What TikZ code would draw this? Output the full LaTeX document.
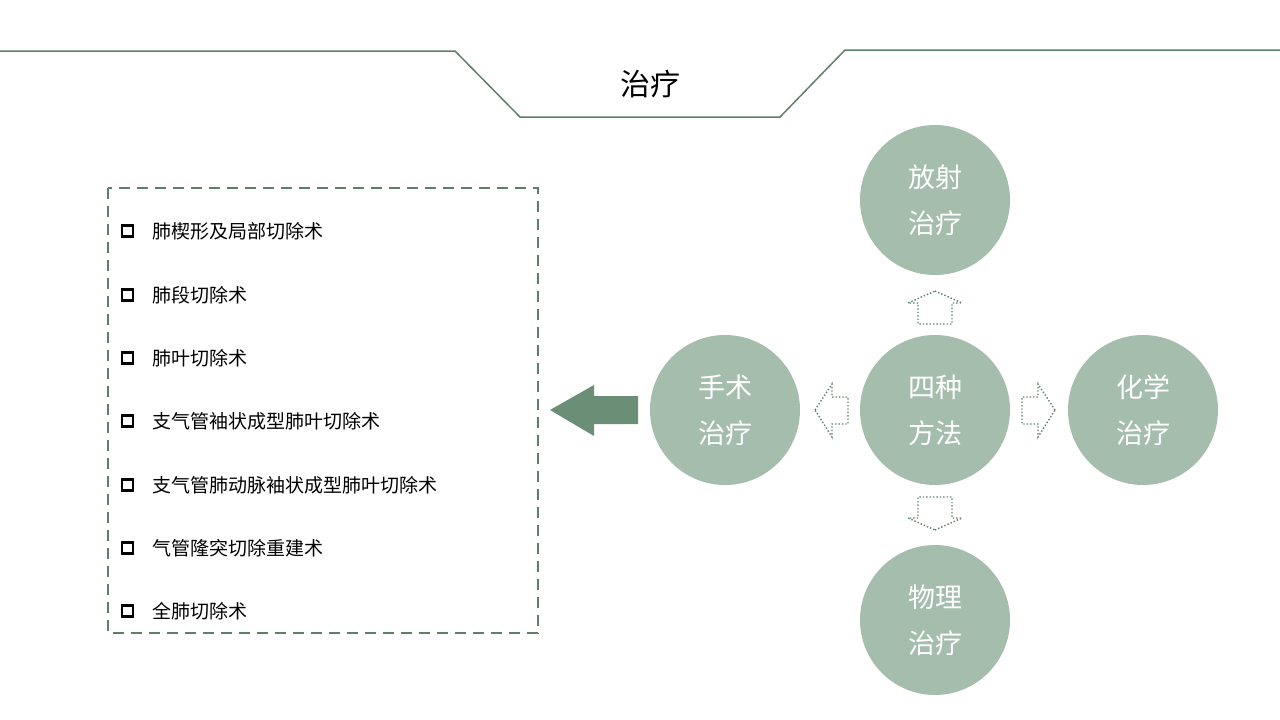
\documentclass[tikz,border=0pt]{standalone}
\usepackage{fontspec}
\setmainfont{Noto Sans CJK SC}
\begin{document}
\begin{tikzpicture}[x=1pt,y=-1pt,
  circ/.style={circle,fill=cgreen,minimum size=150pt,inner sep=0pt,text=white,font=\fontsize{27}{46}\selectfont,align=center},
  item/.style={anchor=west,font=\fontsize{19}{22}\selectfont,inner sep=0pt},
  chk/.style={draw=black,line width=2.2pt,minimum size=11pt,inner sep=0pt},
  dotarr/.style={draw=dgreen,dotted,line width=1.4pt}]
\definecolor{cgreen}{HTML}{A5BDAD}
\definecolor{dgreen}{HTML}{5E7F69}
\definecolor{agreen}{HTML}{6B8F76}
\useasboundingbox (0,0) rectangle (1280,720);
\draw[dgreen,line width=1.5pt] (0,51) -- (455,51) -- (520,117) -- (780,117) -- (845,50) -- (1280,50);
\node (title) at (650,84) {\fontsize{30}{34}\selectfont 治疗};
\draw[dgreen,dashed,line width=1.3pt,dash pattern=on 11pt off 7pt] (108,188) rectangle (538,633);
\foreach \y/\t [count=\i] in {231/肺楔形及局部切除术,295/肺段切除术,358/肺叶切除术,421/支气管袖状成型肺叶切除术,485/支气管肺动脉袖状成型肺叶切除术,548/气管隆突切除重建术,611/全肺切除术}{
  \node[chk] (c\i) at (127.5,\y) {};
  \node[item] (t\i) at (152,\y) {\t};
}
\fill[agreen] (550,410) -- (594,385) -- (594,396) -- (638,396) -- (638,424) -- (594,424) -- (594,436) -- cycle;
\node[circ] (top) at (935,200) {放射\\治疗};
\node[circ] (left) at (725,410) {手术\\治疗};
\node[circ] (mid) at (935,410) {四种\\方法};
\node[circ] (right) at (1143,410) {化学\\治疗};
\node[circ] (bot) at (935,620) {物理\\治疗};
\draw[dotarr] (935,291) -- (962,303) -- (952,303) -- (952,324) -- (918,324) -- (918,303) -- (908,303) -- cycle;
\draw[dotarr] (935,530) -- (962,518) -- (952,518) -- (952,497) -- (918,497) -- (918,518) -- (908,518) -- cycle;
\draw[dotarr] (815,410) -- (832,384) -- (832,397) -- (848,397) -- (848,424) -- (832,424) -- (832,437) -- cycle;
\draw[dotarr] (1055,410) -- (1038,384) -- (1038,397) -- (1022,397) -- (1022,424) -- (1038,424) -- (1038,437) -- cycle;
\end{tikzpicture}
\end{document}
